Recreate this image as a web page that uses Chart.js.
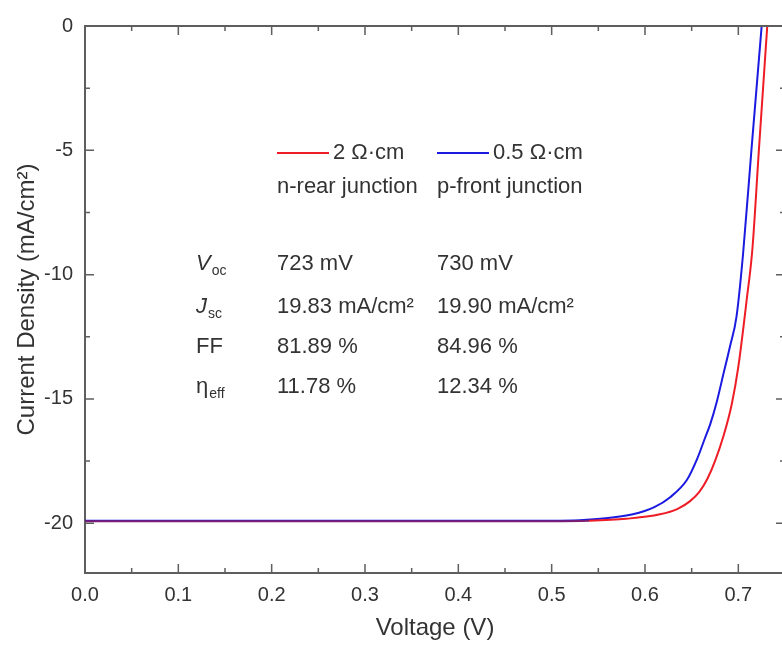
<!DOCTYPE html>
<html>
<head>
<meta charset="utf-8">
<script src="https://cdn.jsdelivr.net/npm/chart.js@4.4.0/dist/chart.umd.min.js"></script>
<style>
html, body { margin: 0; padding: 0; background: #fff; overflow: hidden; }
canvas { display: block; }
</style>
</head>
<body>
<canvas id="chartJV" width="795" height="649"></canvas>
<script>
// J-V curves
var voltRed = [0, 0.1, 0.2, 0.3, 0.4, 0.5, 0.54, 0.58, 0.616, 0.635, 0.648, 0.658, 0.667, 0.675, 0.684, 0.693, 0.700, 0.709, 0.715, 0.722, 0.731]
var curRed = [-19.92, -19.92, -19.92, -19.92, -19.92, -19.92, -19.90, -19.82, -19.64, -19.42, -19.12, -18.75, -18.2, -17.5, -16.5, -15.2, -13.7, -11.0, -9.0, -5.0, 0]
var voltBlue = [0, 0.1, 0.2, 0.3, 0.4, 0.5, 0.53, 0.552, 0.587, 0.61, 0.627, 0.645, 0.656, 0.664, 0.670, 0.677, 0.684, 0.691, 0.698, 0.705, 0.714, 0.725]
var curBlue = [-19.9, -19.9, -19.9, -19.9, -19.9, -19.9, -19.88, -19.82, -19.64, -19.35, -18.95, -18.25, -17.4, -16.6, -16.0, -15.1, -14.0, -12.9, -11.7, -9.2, -5.0, 0]

var legendNames = ['2 Ω·cm', '0.5 Ω·cm']
var legendSub = ['n-rear junction', 'p-front junction']
var paramNames = [['V', 'oc'], ['J', 'sc'], ['FF', ''], ['η', 'eff']]
var paramsRed = ['723 mV', '19.83 mA/cm²', '81.89 %', '11.78 %']
var paramsBlue = ['730 mV', '19.90 mA/cm²', '84.96 %', '12.34 %']

var font = "'Liberation Sans', Arial, sans-serif"
var axisColor = '#5e5e5e'
var textColor = '#333'
var redColor = '#ee1c25'
var blueColor = '#1a1ae0'
var overlapColor = '#7a1c72'

function toPoints(xs, ys){
    return xs.map(function(v, i){ return {x: v, y: ys[i]} })
}
function isStep(v, step){
    return Math.abs(v / step - Math.round(v / step)) < 1e-6
}

// inward ticks, top/right frame, legend and parameter table
var framePlugin = {
    id: 'frame',
    afterDatasetsDraw: function(chart){
        let ctx = chart.ctx
        let a = chart.chartArea
        let x = chart.scales.x
        let y = chart.scales.y
        ctx.save()
        ctx.strokeStyle = axisColor
        ctx.lineWidth = 2
        ctx.beginPath()
        ctx.moveTo(a.left, a.top)
        ctx.lineTo(a.right, a.top)
        ctx.lineTo(a.right, a.bottom)
        ctx.stroke()

        ctx.lineWidth = 1.5
        ctx.beginPath()
        x.ticks.forEach(function(t){
            if (!isStep(t.value, 0.05)) return
            let px = x.getPixelForValue(t.value)
            if (px <= a.left + 1 || px >= a.right - 1) return
            let len = isStep(t.value, 0.1) ? 9 : 5
            ctx.moveTo(px, a.bottom); ctx.lineTo(px, a.bottom - len)
            ctx.moveTo(px, a.top); ctx.lineTo(px, a.top + len)
        })
        y.ticks.forEach(function(t){
            if (!isStep(t.value, 2.5)) return
            let py = y.getPixelForValue(t.value)
            if (py <= a.top + 1 || py >= a.bottom - 1) return
            let len = isStep(t.value, 5) ? 9 : 5
            ctx.moveTo(a.left, py); ctx.lineTo(a.left + len, py)
            ctx.moveTo(a.right, py); ctx.lineTo(a.right - len, py)
        })
        ctx.stroke()

        // legend
        let colX = [277, 437]
        let colors = [redColor, blueColor]
        ctx.lineWidth = 2
        ctx.textBaseline = 'middle'
        ctx.textAlign = 'left'
        ctx.fillStyle = textColor
        ctx.font = '22px ' + font
        for (let i = 0; i < 2; i++) {
            ctx.strokeStyle = colors[i]
            ctx.beginPath()
            ctx.moveTo(colX[i], 153)
            ctx.lineTo(colX[i] + 52, 153)
            ctx.stroke()
            ctx.fillText(legendNames[i], colX[i] + 56, 153)
            ctx.fillText(legendSub[i], colX[i], 187)
        }

        // parameter table
        let rowY = [264, 307, 347, 387]
        paramNames.forEach(function(p, i){
            let italic = (p[0] == 'V' || p[0] == 'J')
            ctx.font = (italic ? 'italic ' : '') + '22px ' + font
            ctx.fillText(p[0], 196, rowY[i])
            let w = ctx.measureText(p[0]).width
            if (p[1] != '') {
                ctx.font = '14px ' + font
                ctx.fillText(p[1], 196 + w + 1, rowY[i] + 7)
            }
            ctx.font = '22px ' + font
            ctx.fillText(paramsRed[i], colX[0], rowY[i])
            ctx.fillText(paramsBlue[i], colX[1], rowY[i])
        })
        ctx.restore()
    }
}

var ctx = document.getElementById('chartJV')
var chartJV = new Chart(ctx, {
    type: 'scatter',
    data: {
        datasets: [{
            label: legendNames[0],
            data: toPoints(voltRed, curRed),
            borderColor: redColor,
            segment: {
                borderColor: function(c){ return c.p1.parsed.x <= 0.541 ? overlapColor : redColor }
            },
            showLine: true,
            borderWidth: 2,
            pointRadius: 0,
            cubicInterpolationMode: 'monotone'
        }, {
            label: legendNames[1],
            data: toPoints(voltBlue, curBlue),
            borderColor: blueColor,
            showLine: true,
            borderWidth: 2,
            pointRadius: 0,
            cubicInterpolationMode: 'monotone'
        }]
    },
    options: {
        responsive: false,
        animation: false,
        layout: { padding: { top: 26, right: 0, left: 0, bottom: 0 } },
        plugins: {
            legend: { display: false },
            tooltip: { enabled: false }
        },
        scales: {
            x: {
                type: 'linear',
                min: 0,
                max: 0.75,
                afterFit: function(s){ s.height = 76 },
                grid: { display: false, drawTicks: false },
                border: { display: true, color: axisColor, width: 2 },
                ticks: {
                    stepSize: 0.05,
                    autoSkip: false,
                    maxRotation: 0,
                    padding: 10,
                    color: textColor,
                    font: { family: font, size: 20 },
                    callback: function(val){
                        return isStep(val, 0.1) ? val.toFixed(1) : ''
                    }
                },
                title: {
                    display: true,
                    text: 'Voltage (V)',
                    color: textColor,
                    font: { family: font, size: 24 },
                    padding: { top: 0, bottom: 6 }
                }
            },
            y: {
                min: -22,
                max: 0,
                afterFit: function(s){ s.width = 85 },
                grid: { display: false, drawTicks: false },
                border: { display: true, color: axisColor, width: 2 },
                ticks: {
                    stepSize: 2.5,
                    autoSkip: false,
                    padding: 12,
                    color: textColor,
                    font: { family: font, size: 20 },
                    callback: function(val){
                        if (isStep(val, 5)) {
                            return String(Math.round(val))
                        }
                        return ''
                    }
                },
                title: {
                    display: true,
                    text: 'Current Density (mA/cm²)',
                    color: textColor,
                    font: { family: font, size: 24 },
                    padding: { top: 13, bottom: 0 }
                }
            }
        }
    },
    plugins: [framePlugin]
})
</script>
</body>
</html>
